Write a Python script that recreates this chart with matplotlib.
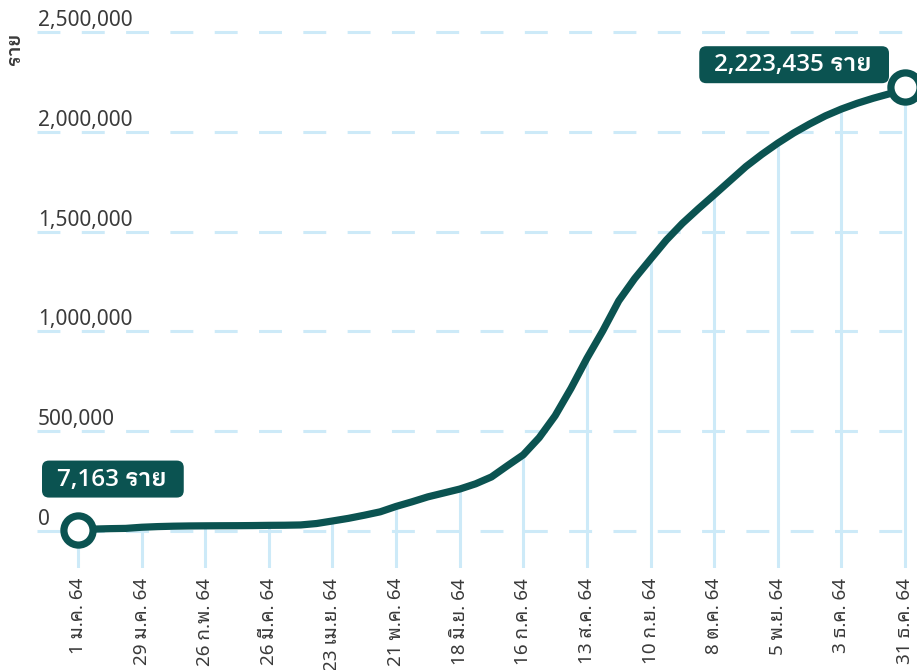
import matplotlib
matplotlib.use("Agg")
import matplotlib.pyplot as plt
from matplotlib.patches import FancyBboxPatch
from matplotlib.transforms import IdentityTransform
import numpy as np

# ---- data (cumulative cases, 2021, weekly readings) ----
days = list(range(0, 365, 7))
cases = [7163, 9636, 11786, 13104, 18782, 22058, 24104, 25323, 25951, 26379,
         26679, 27294, 28346, 28889, 30310, 37453, 50183, 63328, 79029, 96050,
         123066, 146229, 171081, 190539, 210082, 236291, 270921, 327003, 381907,
         467707, 577405, 714684, 865183, 1003177, 1153022, 1264705, 1361947,
         1458000, 1541000, 1614000, 1684000, 1755000, 1826000, 1887000, 1943000,
         1994000, 2039000, 2080000, 2114000, 2143000, 2168000, 2190000, 2223435]
tick_days = [0, 28, 56, 84, 112, 140, 168, 196, 224, 252, 280, 308, 336, 364]
tick_labels = ["1 ม.ค. 64", "29 ม.ค. 64", "26 ก.พ. 64", "26 มี.ค. 64", "23 เม.ย. 64",
               "21 พ.ค. 64", "18 มิ.ย. 64", "16 ก.ค. 64", "13 ส.ค. 64", "10 ก.ย. 64",
               "8 ต.ค. 64", "5 พ.ย. 64", "3 ธ.ค. 64", "31 ธ.ค. 64"]
y_ticks = [0, 500000, 1000000, 1500000, 2000000, 2500000]
y_tick_labels = ["0", "500,000", "1,000,000", "1,500,000", "2,000,000", "2,500,000"]
start_label = "7,163 ราย"
end_label = "2,223,435 ราย"
y_title = "ราย"

DARK = "#0b5351"
GRID = "#cdeaf8"
TXT = "#3a3a3a"
FONT = ["Noto Sans", "Noto Sans Thai Looped"]
BFONT = ["Open Sans", "IBM Plex Sans Thai Looped"]

W, H = 917, 670
fig = plt.figure(figsize=(W / 100, H / 100), dpi=100)
# axes spans pixel x 37..917, y 0..568
ax = fig.add_axes([37 / W, (H - 568) / H, 880 / W, 568 / H])
ax.set_axis_off()

# x mapping: day 0 -> px 78, day 364 -> px 905
ppd = (905 - 78) / 364.0
ax.set_xlim(-(78 - 37) / ppd, 364 + (917 - 905) / ppd)
# y mapping: 0 -> px 531, 2.5M -> px 32
ppv = (531 - 32) / 2500000.0
ax.set_ylim(-(568 - 531) / ppv, (531 - 0) / ppv)

# horizontal dashed grid
for yv in y_ticks:
    ax.axhline(yv, color=GRID, lw=2.2, ls=(0, (7.5, 7)), zorder=1)
# y tick labels above lines
for yv, lab in zip(y_ticks, y_tick_labels):
    ax.annotate(lab, xy=(0, yv), xycoords=("axes fraction", "data"),
                xytext=(1, 6), textcoords="offset pixels",
                ha="left", va="baseline", fontsize=15, color=TXT, family=FONT)

# vertical drop lines
ylo = ax.get_ylim()[0]
tick_vals = np.interp(tick_days, days, cases)
ax.vlines(tick_days, ylo, tick_vals, color=GRID, lw=2.2, zorder=1)

# x tick labels
for d, lab in zip(tick_days, tick_labels):
    ax.annotate(lab, xy=(d, ylo), xycoords="data", xytext=(0, -10),
                textcoords="offset pixels", rotation=90, ha="center", va="top",
                fontsize=13.6, color=TXT, family=FONT, annotation_clip=False)

# the line
ax.plot(days, cases, color=DARK, lw=5.2, solid_capstyle="round",
        solid_joinstyle="round", zorder=3)
ax.plot([days[0], days[-1]], [cases[0], cases[-1]], ls="none", marker="o",
        ms=21, mfc="white", mec=DARK, mew=5.2, zorder=4)

# value labels (text at baseline, box drawn around afterwards)
t1 = ax.annotate(start_label, xy=(days[0], cases[0]), xytext=(-21, 44),
                 textcoords="offset pixels", ha="left", va="baseline", fontsize=17.5,
                 color="white", fontweight="semibold", family=BFONT, zorder=10,
                 annotation_clip=False)
t2 = ax.annotate(end_label, xy=(days[-1], cases[-1]), xytext=(-33, 16),
                 textcoords="offset pixels", ha="right", va="baseline", fontsize=17.5,
                 color="white", fontweight="semibold", family=BFONT, zorder=10,
                 annotation_clip=False)

fig.canvas.draw()
r = fig.canvas.get_renderer()
for t in (t1, t2):
    bb = t.get_window_extent(r)
    px, py = ax.transData.transform(t.xy)
    ox, oy = t.xyann
    base_y = py + oy
    x0 = bb.x0 - 15
    x1 = bb.x1 + 17
    y0 = base_y - 12
    y1 = base_y + 25
    patch = FancyBboxPatch((x0, y0), x1 - x0, y1 - y0,
                           boxstyle="round,pad=0,rounding_size=7",
                           fc=DARK, ec="none", transform=IdentityTransform(),
                           zorder=5, clip_on=False)
    ax.add_artist(patch)

# y title
fig.text(15 / W, 1 - 49 / H, y_title, rotation=90, ha="center", va="center",
         fontsize=13.5, color=TXT, fontweight="semibold", family=BFONT)

fig.savefig("out.png", dpi=100)
